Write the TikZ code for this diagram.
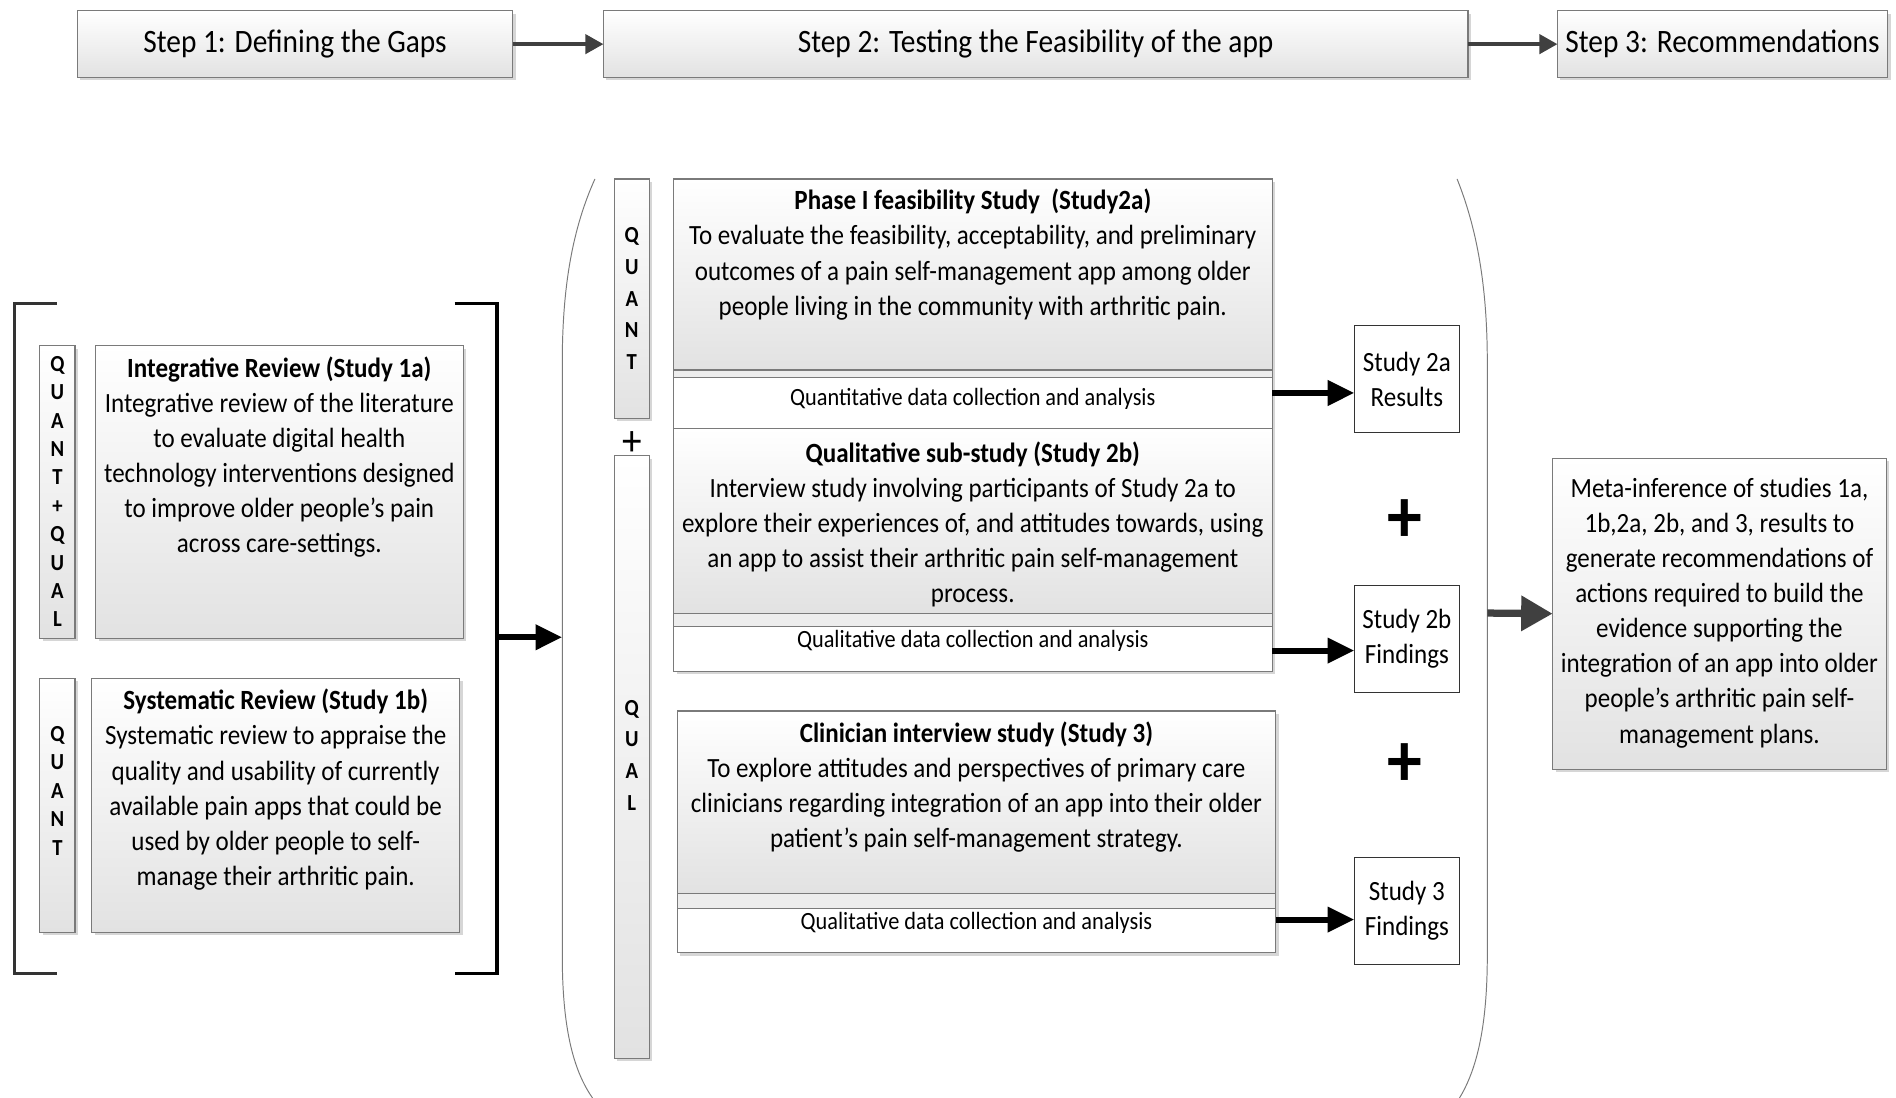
\documentclass[tikz,border=0pt]{standalone}
\usepackage{fontspec}
\setmainfont{Carlito}[FakeStretch=0.9]
\usetikzlibrary{arrows.meta,shadows,calc}

\definecolor{edge}{HTML}{7A7A7A}
\definecolor{darkarrow}{HTML}{404040}
\definecolor{shadebottom}{HTML}{E2E2E2}
\definecolor{bandfill}{HTML}{EDEDED}

\tikzset{
  x=1pt, y=-1pt,
  softshadow/.style={drop shadow={shadow xshift=2.5pt, shadow yshift=-2.5pt, fill=black!16, opacity=1}},
  gbox/.style={draw=edge, line width=0.9pt, top color=white, bottom color=shadebottom,
    softshadow, inner sep=0pt, outer sep=0pt},
  stepbox/.style={gbox, font=\fontsize{27}{30}\selectfont},
  plainbox/.style={draw=edge, line width=0.9pt, fill=white, inner sep=0pt, outer sep=0pt},
  bandbox/.style={draw=edge, line width=0.9pt, fill=bandfill, inner sep=0pt, outer sep=0pt},
  resultbox/.style={draw=black!80, line width=0.9pt, fill=white, inner sep=0pt, outer sep=0pt,
    align=center, font=\fontsize{23}{29}\selectfont},
  bodytxt/.style={align=center, inner sep=0pt, font=\fontsize{23}{29}\selectfont},
  datatxt/.style={inner sep=0pt, font=\fontsize{20.5}{22}\selectfont},
  lettersL/.style={align=center, inner sep=0pt, font=\bfseries\fontsize{19}{23.5}\selectfont},
  lettersM/.style={align=center, inner sep=0pt, font=\bfseries\fontsize{19}{26.2}\selectfont},
  steparrow/.style={draw=darkarrow, line width=3pt, -{Triangle[length=15pt,width=16pt]}},
  blackarrow/.style={draw=black, line width=5pt, -{Triangle[length=22pt,width=20pt]}},
  metaarrow/.style={draw=darkarrow, line width=6pt, -{Triangle[length=26pt,width=28pt]}},
  bracketline/.style={line width=3pt},
  outline/.style={draw=edge, line width=0.8pt},
  bigplus/.style={inner sep=0pt, font=\bfseries\fontsize{64}{64}\selectfont},
}

\begin{document}
\begin{tikzpicture}
\useasboundingbox (0,0) rectangle (1568,908);

% ---- top row: the three steps
\node[stepbox, minimum width=360pt, minimum height=55pt] (s1) at (244,36.5) {Step 1: Defining the Gaps};
\node[stepbox, minimum width=715pt, minimum height=55pt] (s2) at (856.5,36.5) {Step 2: Testing the Feasibility of the app};
\node[stepbox, minimum width=273pt, minimum height=55pt] (s3) at (1424.5,36.5) {Step 3: Recommendations};
\draw[steparrow] (s1.east) -- (s2.west);
\draw[steparrow] (s2.east) -- (s3.west);

% ---- step 1: the two reviews inside brackets
\draw[bracketline, draw=black!80] (47,251) -- (12,251) -- (12,805) -- (47,805);
\draw[bracketline, draw=black] (376,251) -- (411,251) -- (411,805) -- (376,805);
\coordinate (brR) at (411,527);

\node[gbox, minimum width=29pt, minimum height=242pt] (vqq) at (47.5,407) {};
\node[lettersL] (vqqt) at (47.5,406.5) {Q\\U\\A\\N\\T\\+\\Q\\U\\A\\L};
\node[gbox, minimum width=304pt, minimum height=242pt] (b1a) at (231,407) {};
\node[bodytxt] (t1a) at (231,378) {\textbf{Integrative Review (Study 1a)}\\Integrative review of the literature\\to evaluate digital health\\technology interventions designed\\to improve older people’s pain\\across care-settings.};

\node[gbox, minimum width=29pt, minimum height=210pt] (vq1) at (47.5,666) {};
\node[lettersL] (vq1t) at (47.5,654) {Q\\U\\A\\N\\T};
\node[gbox, minimum width=304pt, minimum height=210pt] (b1b) at (228,666) {};
\node[bodytxt] (t1b) at (228,653) {\textbf{Systematic Review (Study 1b)}\\Systematic review to appraise the\\quality and usability of currently\\available pain apps that could be\\used by older people to self-\\manage their arthritic pain.};

% ---- step 2: rounded enclosure
\coordinate (encTL) at (492,148);
\coordinate (encBL) at (490,908);
\coordinate (encTR) at (1205,148);
\coordinate (encBR) at (1207,908);
\coordinate (bigL) at (465,527);
\coordinate (bigR) at (1230,507);
\draw[outline] (encTL) .. controls (474,188) and (465,235) .. (465,300) -- (465,790)
  .. controls (465,850) and (474,885) .. (encBL);
\draw[outline] (encTR) .. controls (1221,188) and (1230,235) .. (1230,300) -- (1230,790)
  .. controls (1230,850) and (1221,885) .. (encBR);
\draw[blackarrow] (brR) -- (bigL);

\node[gbox, minimum width=29pt, minimum height=198pt] (vq2) at (522.5,247) {};
\node[lettersM] (vq2t) at (522.5,247) {Q\\U\\A\\N\\T};
\node[inner sep=0pt, font=\fontsize{36}{36}\selectfont] (plusmid) at (522.5,367) {+};
\node[gbox, minimum width=29pt, minimum height=498pt] (vql) at (522.5,626) {};
\node[lettersM] (vqlt) at (522.5,624.5) {Q\\U\\A\\L};

% study 2a
\node[gbox, minimum width=495pt, minimum height=206pt] (o2a) at (804.5,251) {};
\node[gbox, drop shadow={opacity=0}, minimum width=495pt, minimum height=158pt] (p2a) at (804.5,227) {};
\node[bandbox, minimum width=495pt, minimum height=6pt] (k2a) at (804.5,309) {};
\node[plainbox, minimum width=495pt, minimum height=42pt] (d2a) at (804.5,333) {};
\node[bodytxt] (t2a) at (804.5,210.5) {\textbf{Phase I feasibility Study\ \ (Study2a)}\\To evaluate the feasibility, acceptability, and preliminary\\outcomes of a pain self-management app among older\\people living in the community with arthritic pain.};
\node[datatxt] (q2a) at (804.5,330) {Quantitative data collection and analysis};

% study 2b
\node[gbox, minimum width=495pt, minimum height=201pt] (o2b) at (804.5,454.5) {};
\node[gbox, drop shadow={opacity=0}, minimum width=495pt, minimum height=153pt] (p2b) at (804.5,430.5) {};
\node[bandbox, minimum width=495pt, minimum height=11pt] (k2b) at (804.5,512.5) {};
\node[plainbox, minimum width=495pt, minimum height=37pt] (d2b) at (804.5,536.5) {};
\node[bodytxt] (t2b) at (804.5,433.5) {\textbf{Qualitative sub-study (Study 2b)}\\Interview study involving participants of Study 2a to\\explore their experiences of, and attitudes towards, using\\an app to assist their arthritic pain self-management\\process.};
\node[datatxt] (q2b) at (804.5,530) {Qualitative data collection and analysis};

% study 3
\node[gbox, minimum width=495pt, minimum height=200pt] (o3) at (807.5,688) {};
\node[gbox, drop shadow={opacity=0}, minimum width=495pt, minimum height=151pt] (p3) at (807.5,663.5) {};
\node[bandbox, minimum width=495pt, minimum height=12pt] (k3) at (807.5,745) {};
\node[plainbox, minimum width=495pt, minimum height=37pt] (d3) at (807.5,769.5) {};
\node[bodytxt] (t3) at (807.5,651) {\textbf{Clinician interview study (Study 3)}\\To explore attitudes and perspectives of primary care\\clinicians regarding integration of an app into their older\\patient’s pain self-management strategy.};
\node[datatxt] (q3) at (807.5,763) {Qualitative data collection and analysis};

% results
\node[resultbox, minimum width=87pt, minimum height=89pt] (r2a) at (1163.5,313.5) {Study 2a\\Results};
\node[resultbox, minimum width=87pt, minimum height=89pt] (r2b) at (1163.5,528.5) {Study 2b\\Findings};
\node[resultbox, minimum width=87pt, minimum height=89pt] (r3) at (1163.5,753.5) {Study 3\\Findings};
\node[bigplus] (plusA) at (1162,431) {+};
\node[bigplus] (plusB) at (1162,633) {+};

\draw[blackarrow] ([yshift=8pt]d2a.east) -- ([yshift=8pt]d2a.east -| r2a.west);
\draw[blackarrow] ([yshift=-1.5pt]d2b.east) -- ([yshift=-1.5pt]d2b.east -| r2b.west);
\draw[blackarrow] ([yshift=9pt]d3.east) -- ([yshift=9pt]d3.east -| r3.west);

% ---- step 3: meta-inference
\node[gbox, minimum width=276pt, minimum height=257pt] (meta) at (1422,507.5) {};
\node[bodytxt] (tmeta) at (1422,507) {Meta-inference of studies 1a,\\1b,2a, 2b, and 3, results to\\generate recommendations of\\actions required to build the\\evidence supporting the\\integration of an app into older\\people’s arthritic pain self-\\management plans.};
\draw[metaarrow, drop shadow={shadow xshift=2pt, shadow yshift=-2pt, fill=black!20, opacity=1}] (bigR) -- (meta.west);
\end{tikzpicture}
\end{document}
